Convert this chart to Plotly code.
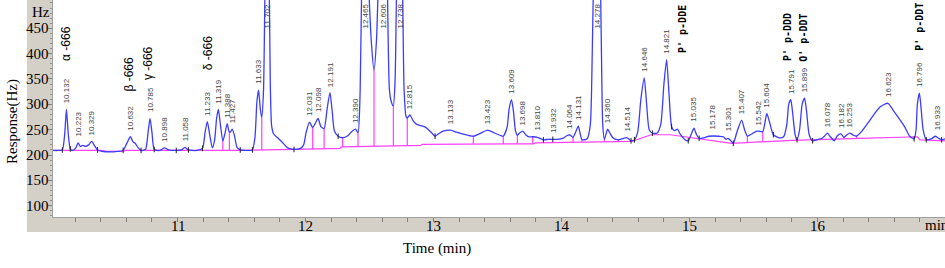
import numpy as np
import plotly.graph_objects as go

# ---------------- data ----------------
time_min = [10.027, 10.07, 10.10, 10.118, 10.132, 10.146, 10.162, 10.18, 10.205, 10.223, 10.24, 10.26, 10.28,
            10.305, 10.329, 10.35, 10.375, 10.41, 10.47, 10.53, 10.575, 10.605, 10.632, 10.652, 10.67, 10.69,
            10.715, 10.75, 10.77, 10.785, 10.80, 10.818, 10.86, 10.898, 10.93, 10.99, 11.03, 11.058, 11.085,
            11.15, 11.195, 11.215, 11.233, 11.25, 11.272, 11.29, 11.305, 11.319, 11.334, 11.354, 11.37, 11.388,
            11.403, 11.412, 11.427, 11.445, 11.465, 11.49, 11.55, 11.585, 11.605, 11.62, 11.633, 11.647, 11.658,
            11.672, 11.685, 11.702, 11.715, 11.725, 11.735, 11.75, 11.79, 11.83, 11.86, 11.91, 11.96, 11.985,
            12.005, 12.031, 12.056, 12.075, 12.098, 12.12, 12.145, 12.168, 12.191, 12.21, 12.225, 12.255, 12.29,
            12.33, 12.36, 12.39, 12.41, 12.427, 12.44, 12.465, 12.49, 12.515, 12.535, 12.555, 12.575, 12.606,
            12.635, 12.655, 12.67, 12.686, 12.70, 12.715, 12.738, 12.755, 12.77, 12.785, 12.795, 12.815, 12.84,
            12.865, 12.90, 12.935, 12.96, 12.985, 13.012, 13.04, 13.075, 13.133, 13.18, 13.233, 13.311, 13.36,
            13.423, 13.47, 13.52, 13.545, 13.575, 13.59, 13.609, 13.625, 13.64, 13.655, 13.675, 13.698, 13.72,
            13.745, 13.775, 13.81, 13.858, 13.90, 13.932, 13.97, 14.01, 14.04, 14.064, 14.09, 14.11, 14.131,
            14.145, 14.16, 14.20, 14.225, 14.24, 14.255, 14.278, 14.30, 14.312, 14.322, 14.335, 14.36, 14.38,
            14.405, 14.444, 14.485, 14.514, 14.543, 14.57, 14.595, 14.62, 14.646, 14.665, 14.685, 14.71, 14.745,
            14.775, 14.80, 14.821, 14.84, 14.86, 14.88, 14.905, 14.93, 14.965, 14.99, 15.012, 15.035, 15.055,
            15.075, 15.11, 15.15, 15.186, 15.23, 15.264, 15.285, 15.301, 15.32, 15.342, 15.37, 15.407, 15.43,
            15.452, 15.49, 15.525, 15.542, 15.572, 15.59, 15.604, 15.625, 15.655, 15.70, 15.735, 15.76, 15.775,
            15.791, 15.807, 15.825, 15.84, 15.86, 15.88, 15.899, 15.915, 15.935, 15.962, 15.995, 16.035, 16.058,
            16.078, 16.10, 16.131, 16.155, 16.182, 16.207, 16.23, 16.253, 16.28, 16.306, 16.35, 16.41, 16.49,
            16.55, 16.60, 16.68, 16.72, 16.755, 16.77, 16.78, 16.796, 16.81, 16.825, 16.85, 16.895, 16.92,
            16.945, 16.97, 16.996]
response_hz = [209, 209, 210, 240, 290, 242, 212, 209, 214, 224, 217, 219, 217,
               220, 227, 219, 210, 207, 206, 207, 209, 224, 236, 226, 223, 215,
               209, 211, 245, 272, 245, 211, 209, 214, 210, 209, 210, 215, 210,
               209, 213, 245, 266, 242, 214, 230, 272, 290, 262, 227, 242, 262,
               246, 245, 251, 238, 215, 210, 209, 210, 235, 305, 328, 290, 274,
               330, 560, 700, 560, 335, 258, 242, 232, 222, 214, 211, 213, 220,
               245, 265, 254, 262, 272, 256, 252, 290, 323, 282, 248, 237, 234,
               238, 246, 251, 244, 330, 560, 800, 560, 420, 367, 430, 600, 800,
               600, 330, 305, 297, 350, 600, 800, 600, 330, 276, 273, 279, 268,
               261, 258, 255, 250, 244, 237, 242, 247, 249, 245, 241, 237, 242,
               249, 244, 239, 237, 255, 290, 309, 285, 248, 239, 244, 247, 240,
               236, 236, 235, 230, 231, 231, 231, 233, 238, 239.5, 235, 245, 257,
               243, 230, 232, 260, 400, 620, 850, 620, 400, 260, 231, 251, 242,
               233, 230, 233, 234, 228, 230, 245, 310, 352, 300, 250, 243, 243,
               260, 340, 388, 320, 256, 248, 251, 240, 230, 228, 240, 253, 240,
               233, 234, 237, 237.5, 237, 236, 231, 233, 229, 223, 245, 269, 250,
               237.5, 242, 247, 247, 246, 265, 282, 265, 240, 234, 236, 260, 300,
               309, 280, 240, 230, 250, 300, 312, 285, 240, 228, 230, 233, 238,
               243, 236, 228, 238, 241.5, 235, 240, 243, 239, 237.5, 248, 269, 295,
               302, 285, 256, 237, 232, 250, 300, 322, 290, 250, 230, 233, 237,
               233, 230, 232]

baseline_time = [10.027, 10.40, 10.45, 10.56, 10.60, 11.0, 11.5, 11.9, 12.27, 12.28, 12.60, 12.90, 12.91,
                 13.78, 13.80, 14.55, 14.70, 14.85, 15.33, 15.80, 16.33, 16.78, 16.80, 16.996]
baseline_hz = [209, 209, 207, 207, 209, 209, 209, 211, 213, 216, 217, 219, 221,
               222, 224, 227, 240, 240, 223, 229, 233, 236, 230, 228]

drop_time = [11.354, 11.405, 11.658, 12.056, 12.145, 12.29, 12.41, 12.535, 12.686, 12.795, 13.311,
             13.545, 13.655, 13.775, 14.09, 14.16, 14.335, 14.444, 15.452, 15.572, 16.131, 16.207, 16.306]
event_time = [10.10, 10.162, 10.375, 10.575, 10.715, 10.818, 10.99, 11.085, 11.195, 11.49, 11.585, 11.91,
              12.255, 13.012, 13.858, 13.932, 14.543, 14.57, 14.71, 14.86, 14.99, 15.075, 15.342, 15.655,
              15.84, 15.962, 16.755, 16.85, 16.97]

peak_labels = ['10.132', '10.223', '10.329', '10.632', '10.785', '10.898', '11.058', '11.233', '11.319',
               '11.388', '11.427', '11.633', '11.702', '12.031', '12.098', '12.191', '12.390', '12.465',
               '12.606', '12.738', '12.815', '13.133', '13.423', '13.609', '13.698', '13.810', '13.932',
               '14.064', '14.131', '14.278', '14.360', '14.514', '14.646', '14.821', '15.035', '15.178',
               '15.301', '15.407', '15.542', '15.604', '15.791', '15.899', '16.078', '16.182', '16.253',
               '16.623', '16.796', '16.933']
peak_label_time = [10.132, 10.223, 10.329, 10.632, 10.785, 10.898, 11.058, 11.233, 11.319,
                   11.388, 11.427, 11.633, 11.702, 12.031, 12.098, 12.191, 12.390, 12.465,
                   12.606, 12.738, 12.815, 13.133, 13.423, 13.609, 13.698, 13.810, 13.932,
                   14.064, 14.131, 14.278, 14.360, 14.514, 14.646, 14.821, 15.035, 15.178,
                   15.301, 15.407, 15.542, 15.604, 15.791, 15.899, 16.078, 16.182, 16.253,
                   16.56, 16.796, 16.933]
# None = peak off scale (label sits at the top of the plot)
peak_label_hz = [290, 224, 227, 236, 272, 214, 215, 266, 290,
                 262, 251, 328, None, 265, 272, 323, 251, None,
                 None, None, 279, 249, 249, 309, 247, 236, 232,
                 240, 257, None, 251, 234, 352, 388, 253, 238,
                 234, 269, 247, 282, 309, 312, 243, 242, 243,
                 302, 322, 238]

compound_names = ['α -666', 'β -666', 'γ -666', 'δ -666', "P' p-DDE", "P' p-DDD", "O' p-DDT", "P' p-DDT"]
compound_time = [10.13, 10.62, 10.77, 11.24, 14.94, 15.76, 15.89, 16.79]
compound_hz = [381, 322, 344, 364, 397, 381, 381, 401]

y_ticks = [100, 150, 200, 250, 300, 350, 400, 450]
x_ticks = [11, 12, 13, 14, 15, 16]

# ---------------- figure ----------------
X_RANGE = [10.027, 16.996]
Y_RANGE = [77.7, 505.8]
SERIF = 'Liberation Serif'

fig = go.Figure()

fig.add_trace(go.Scatter(x=baseline_time, y=baseline_hz, mode='lines',
                         line=dict(color='#ff40ff', width=1.2), hoverinfo='skip'))

dx, dy = [], []
for t in drop_time:
    dx += [t, t, None]
    dy += [float(np.interp(t, baseline_time, baseline_hz)), float(np.interp(t, time_min, response_hz)), None]
fig.add_trace(go.Scatter(x=dx, y=dy, mode='lines', line=dict(color='#ff40ff', width=1.2), hoverinfo='skip'))

fig.add_trace(go.Scatter(x=time_min, y=response_hz, mode='lines',
                         line=dict(color='#3c3cff', width=1.3, shape='spline', smoothing=0.6)))

fig.add_trace(go.Scatter(x=event_time, y=[float(np.interp(t, time_min, response_hz)) for t in event_time],
                         mode='markers', marker=dict(symbol='line-ns-open', size=4, color='#222',
                                                     line=dict(width=1, color='#222'))))

ann = []
for txt, t, h in zip(peak_labels, peak_label_time, peak_label_hz):
    if h is None:
        ann.append(dict(x=t, y=1, xref='x', yref='paper', text=txt, textangle=-90, showarrow=False,
                        xanchor='center', yanchor='top', yshift=-2,
                        font=dict(family='Liberation Sans', size=8, color='#444')))
    else:
        ann.append(dict(x=t, y=h, xref='x', yref='y', text=txt, textangle=-90, showarrow=False,
                        xanchor='center', yanchor='bottom', yshift=4,
                        font=dict(family='Liberation Sans', size=8, color='#444')))
for name, t, h in zip(compound_names, compound_time, compound_hz):
    mono = name[0] in 'PO'
    ann.append(dict(x=t, y=h, xref='x', yref='y', text=name, textangle=-90, showarrow=False,
                    xanchor='center', yanchor='bottom',
                    font=dict(family='DejaVu Sans Mono' if mono else 'Liberation Sans',
                              size=10 if mono else 12, color='#000',
                              weight='bold' if mono else 'normal')))

# axis tick labels (from the tick arrays)
for v in y_ticks:
    ann.append(dict(x=0, y=v, xref='paper', yref='y', text=str(v), showarrow=False,
                    xanchor='right', yanchor='middle', xshift=-2,
                    font=dict(family=SERIF, size=15, color='#000')))
for v in x_ticks:
    ann.append(dict(x=v, y=0, xref='x', yref='paper', text=str(v), showarrow=False,
                    xanchor='center', yanchor='top', yshift=1,
                    font=dict(family=SERIF, size=15, color='#000')))

ann.append(dict(x=-0.0448, y=0.438, xref='paper', yref='paper', text='Response(Hz)', textangle=-90,
                xanchor='center', yanchor='middle',
                showarrow=False, font=dict(family=SERIF, size=15, color='#000')))
ann.append(dict(x=0.4305, y=-0.147, xref='paper', yref='paper', text='Time (min)', showarrow=False,
                xanchor='center', yanchor='middle',
                font=dict(family=SERIF, size=15, color='#000')))
ann.append(dict(x=-0.0129, y=0.945, xref='paper', yref='paper', text='Hz', showarrow=False,
                xanchor='center', yanchor='middle',
                font=dict(family=SERIF, size=15, color='#000')))
ann.append(dict(x=0.9753, y=-0.0369, xref='paper', yref='paper', text='min', showarrow=False,
                xanchor='left', yanchor='middle', font=dict(family=SERIF, size=15, color='#000')))

band = '#d4d0c8'
shapes = [
    dict(type='rect', xref='paper', yref='paper', x0=-0.0292, x1=0, y0=-0.069, y1=1,
         fillcolor=band, line=dict(width=0), layer='below'),
    dict(type='rect', xref='paper', yref='paper', x0=-0.0292, x1=1, y0=-0.069, y1=0,
         fillcolor=band, line=dict(width=0), layer='below'),
]

fig.update_layout(
    width=945, height=268,
    margin=dict(l=53, r=0, t=0, b=51, pad=0),
    paper_bgcolor='white', plot_bgcolor='white',
    showlegend=False,
    annotations=ann, shapes=shapes,
    xaxis=dict(range=X_RANGE, tickvals=x_ticks, showticklabels=False, ticks='outside', ticklen=4,
               tickcolor='#808080', automargin=False,
               showgrid=False, zeroline=False, showline=True, linecolor='#a0a0a0', linewidth=1,
               minor=dict(dtick=0.2, ticks='outside', ticklen=4, tickcolor='#808080')),
    yaxis=dict(range=Y_RANGE, tickvals=y_ticks, showticklabels=False, ticks='outside', ticklen=4,
               tickcolor='#808080', automargin=False,
               showgrid=False, zeroline=False, showline=True, linecolor='#a0a0a0', linewidth=1,
               minor=dict(dtick=10, ticks='outside', ticklen=2, tickcolor='#909090')),
)

fig.write_html('out.html', config={'displayModeBar': False},
               post_script="document.body.style.margin='0px';document.body.style.overflow='hidden';")
